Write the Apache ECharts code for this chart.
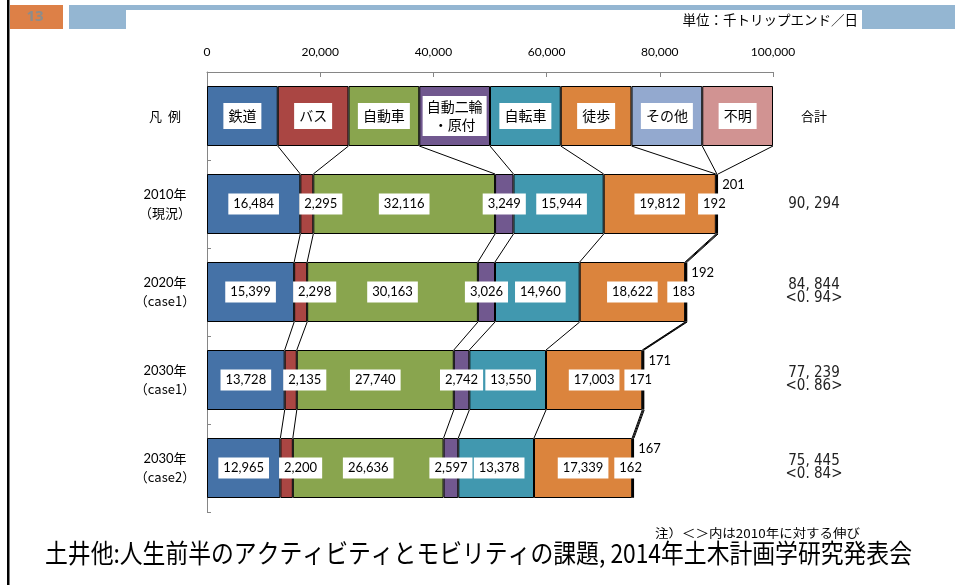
<!DOCTYPE html>
<html><head><meta charset="utf-8">
<script src="https://cdn.jsdelivr.net/npm/echarts@6/dist/echarts.min.js"></script>
<style>html,body{margin:0;padding:0;background:#fff}#c{width:955px;height:585px}</style>
</head><body><div id="c"></div>
<script>
// ---- data ----
const rowLabels = ['凡  例', '2010年\n（現況）', '2020年\n（case1）', '2030年\n（case1）', '2030年\n（case2）'];
const modeNames = ['鉄道', 'バス', '自動車', '自動二輪・原付', '自転車', '徒歩', 'その他', '不明'];
const legendLabels = ['鉄道', 'バス', '自動車', '自動二輪\n・原付', '自転車', '徒歩', 'その他', '不明'];
const legendSpan = 12500; // legend row: eight equal boxes across the 0–100,000 scale
const rail    = [16484, 15399, 13728, 12965];
const bus     = [2295, 2298, 2135, 2200];
const car     = [32116, 30163, 27740, 26636];
const moto    = [3249, 3026, 2742, 2597];
const bike    = [15944, 14960, 13550, 13378];
const walk    = [19812, 18622, 17003, 17339];
const other   = [192, 183, 171, 162];
const unknown = [201, 192, 171, 167];
const totals  = [90294, 84844, 77239, 75445];
const ratios  = [null, 0.94, 0.86, 0.84];
const xMin = 0, xMax = 100000, xInterval = 20000;

// ---- styles ----
const colors = ['#4572A7', '#AA4643', '#89A54E', '#71588F', '#4198AF', '#DB843D', '#93A9CF', '#D19392'];
const BAR_W = 60;
const LATIN = "Lato, 'Noto Sans CJK JP'";
const CJK = "'Noto Sans CJK JP'";
const NARROW = "'Liberation Sans Narrow', 'DejaVu Sans Condensed', 'Noto Sans CJK JP'";

const modes = [rail, bus, car, moto, bike, walk, other, unknown];
const fmt = v => v.toLocaleString('en-US');
const labelOffsets = [[0,0],[14,0],[0,0],[0,0],[3,0],[0,0],[-2,0],[16,-19]];

const series = modes.map((arr, s) => {
  const legendItem = {
    value: legendSpan,
    label: {
      show: true, position: 'inside', offset: [0, 0],
      formatter: legendLabels[s], fontFamily: CJK, fontSize: 14, lineHeight: 18,
      color: '#000', backgroundColor: '#fff', padding: s === 3 ? [2, 4] : [4, 5]
    }
  };
  return {
    name: modeNames[s], type: 'bar', stack: 'total', barWidth: BAR_W,
    itemStyle: { color: colors[s], borderColor: '#000', borderWidth: 1 },
    label: {
      show: true, position: 'inside', offset: labelOffsets[s],
      formatter: p => fmt(p.value), fontFamily: LATIN, fontSize: 13, color: '#000',
      backgroundColor: s === 7 ? 'transparent' : '#fff', padding: [4, 5]
    },
    emphasis: { disabled: true },
    data: [legendItem].concat(arr)
  };
});

// connector lines between consecutive rows (cumulative boundaries)
const cumRow = r => {
  let acc = 0;
  return modes.map((arr, s) => (acc += (r === 0 ? legendSpan : arr[r - 1])));
};
const connData = [];
for (let r = 0; r < rowLabels.length - 1; r++) {
  const a = cumRow(r), b = cumRow(r + 1);
  for (let s = 0; s < modes.length; s++) connData.push([a[s], b[s], r]);
}
series.push({
  type: 'custom', silent: true, z: 1,
  encode: { x: [0, 1], y: 2 },
  renderItem: (params, api) => {
    const r = api.value(2);
    const p1 = api.coord([api.value(0), r]);
    const p2 = api.coord([api.value(1), r + 1]);
    return { type: 'line',
      shape: { x1: p1[0], y1: p1[1] + BAR_W / 2, x2: p2[0], y2: p2[1] - BAR_W / 2 },
      style: { stroke: '#000', lineWidth: 1 } };
  },
  data: connData
});

const totalLabels = ['合計'].concat(totals.map((t, i) => {
  const s = String(t);
  const main = s.slice(0, s.length - 3) + ', ' + s.slice(-3);
  return ratios[i] == null ? '{t|' + main + '}' : '{t|' + main + '}\n{t|<' + String(ratios[i]).replace('.', '. ') + '>}';
}));

// footer text width fitting
function fitScale(text, font, target) {
  const c = document.createElement('canvas').getContext('2d');
  c.font = font; return target / c.measureText(text).width;
}
const srcText = '土井他:人生前半のアクティビティとモビリティの課題, 2014年土木計画学研究発表会';
const srcScale = fitScale(srcText, "26px 'Noto Sans CJK JP'", 867);
const noteText = '注）＜＞内は2010年に対する伸び';
const noteScale = fitScale(noteText, "12px 'Noto Sans CJK JP'", 205);

const chart = echarts.init(document.getElementById('c'), null, { renderer: 'canvas' });
chart.setOption({
  animation: false,
  backgroundColor: '#fff',
  grid: { left: 207, right: 182, top: 72, bottom: 73 },
  xAxis: {
    type: 'value', position: 'top', min: xMin, max: xMax, interval: xInterval,
    axisLine: { show: true, lineStyle: { color: '#868686' } },
    axisTick: { show: true, inside: true, length: 5, lineStyle: { color: '#868686' } },
    axisLabel: { formatter: v => fmt(v), fontFamily: LATIN, fontSize: 12, color: '#000', margin: 14 },
    splitLine: { show: false }
  },
  yAxis: [{
    type: 'category', inverse: true, data: rowLabels,
    axisLine: { show: true, lineStyle: { color: '#868686' } },
    axisTick: { show: true, inside: true, length: 4, lineStyle: { color: '#868686' } },
    axisLabel: {
      align: 'center', margin: 42, color: '#000',
      formatter: v => {
        const parts = v.split('\n');
        return parts.length === 1 ? '{k|' + v + '}' : '{a|' + parts[0] + '}\n{b|' + parts[1] + '}';
      },
      rich: {
        k: { fontFamily: CJK, fontSize: 13, color: '#000' },
        a: { fontFamily: LATIN, fontSize: 13, lineHeight: 19, color: '#000' },
        b: { fontFamily: CJK, fontSize: 13, lineHeight: 19, color: '#000' }
      }
    }
  }, {
    type: 'category', inverse: true, position: 'right', data: totalLabels,
    axisLine: { show: false }, axisTick: { show: false },
    axisLabel: { align: 'center', margin: 41, fontFamily: CJK, fontSize: 13, color: '#000',
      rich: { t: { fontFamily: NARROW, fontSize: 15, lineHeight: 13, color: '#222' } } }
  }],
  series: series,
  graphic: [
    { type: 'rect', shape: { x: 7, y: 0, width: 2.5, height: 585 }, style: { fill: '#000' } },
    { type: 'rect', shape: { x: 10, y: 5, width: 53, height: 24 }, style: { fill: '#DD8047' } },
    { type: 'text', x: 35, y: 17, style: { text: '13', fill: '#8C8C8C', font: "bold 15px 'Open Sans'", textAlign: 'center', textVerticalAlign: 'middle' } },
    { type: 'rect', shape: { x: 69, y: 5, width: 57, height: 24 }, style: { fill: '#94B6D2' } },
    { type: 'rect', shape: { x: 69, y: 5, width: 886, height: 5 }, style: { fill: '#94B6D2' } },
    { type: 'rect', shape: { x: 862, y: 5, width: 93, height: 24 }, style: { fill: '#94B6D2' } },
    { type: 'text', x: 858, y: 20, style: { text: '単位：千トリップエンド／日', fill: '#000', font: "13.5px 'Noto Sans CJK JP'", textAlign: 'right', textVerticalAlign: 'middle' } },
    { type: 'text', x: 655, y: 533, scaleX: noteScale, style: { text: noteText, fill: '#000', font: "12px 'Noto Sans CJK JP'", textAlign: 'left', textVerticalAlign: 'middle' } },
    { type: 'text', x: 45, y: 553, scaleX: srcScale, style: { text: srcText, fill: '#000', font: "26px 'Noto Sans CJK JP'", textAlign: 'left', textVerticalAlign: 'middle' } }
  ]
});
</script></body></html>
